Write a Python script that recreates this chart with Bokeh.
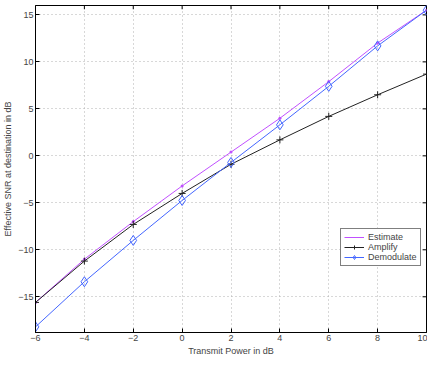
from bokeh.plotting import figure
from bokeh.models import Range1d, FixedTicker, Legend, LegendItem
from bokeh.embed import file_html
from bokeh.resources import INLINE

# Data
power_db = [-6, -4, -2, 0, 2, 4, 6, 8, 10]
estimate = [-15.6, -11.0, -7.0, -3.2, 0.4, 4.0, 7.9, 12.0, 15.5]
amplify = [-15.6, -11.2, -7.3, -4.0, -0.9, 1.7, 4.2, 6.5, 8.7]
demodulate = [-18.2, -13.4, -9.0, -4.75, -0.7, 3.3, 7.4, 11.7, 15.5]
x_ticks = [-6, -4, -2, 0, 2, 4, 6, 8, 10]
y_ticks = [-15, -10, -5, 0, 5, 10, 15]

X_MIN, X_MAX = -6, 10
Y_MIN, Y_MAX = -18.8, 16

FONT = "Liberation Sans"
FS = "9px"

p = figure(width=427, height=358, output_backend="svg", toolbar_location=None,
           x_range=Range1d(X_MIN, X_MAX), y_range=Range1d(Y_MIN, Y_MAX),
           x_axis_label="Transmit Power in dB",
           y_axis_label="Effective SNR at destination in dB",
           min_border_left=0, min_border_right=1, min_border_top=5, min_border_bottom=0)
p.background_fill_color = "white"
p.border_fill_color = "white"
p.outline_line_color = "black"
p.outline_line_width = 1

for ax in (p.xaxis[0], p.yaxis[0]):
    ax.major_tick_in = 4
    ax.major_tick_out = 0
    ax.minor_tick_in = 0
    ax.minor_tick_out = 0
    ax.major_label_text_font = FONT
    ax.major_label_text_font_size = FS
    ax.axis_label_text_font = FONT
    ax.axis_label_text_font_size = FS
    ax.axis_label_text_font_style = "normal"
    ax.axis_line_color = "black"
    ax.major_tick_line_color = "black"
    ax.major_label_standoff = 2
    ax.axis_label_standoff = 2
p.xaxis[0].ticker = FixedTicker(ticks=x_ticks)
p.yaxis[0].ticker = FixedTicker(ticks=y_ticks)

p.xgrid.ticker = FixedTicker(ticks=x_ticks)
p.ygrid.ticker = FixedTicker(ticks=y_ticks)
for g in (p.xgrid[0], p.ygrid[0]):
    g.grid_line_color = "#b0b0b0"
    g.grid_line_dash = "1 3"
    g.grid_line_width = 1

# inward tick marks on top and right edges (MATLAB box style)
tick_len_y = 0.4   # data units (~4px)
tick_len_x = 0.16  # data units (~4px)
p.segment(x0=x_ticks, y0=[Y_MAX] * len(x_ticks), x1=x_ticks,
          y1=[Y_MAX - tick_len_y] * len(x_ticks), line_color="black", line_width=1)
p.segment(x0=[X_MAX] * len(y_ticks), y0=y_ticks, x1=[X_MAX - tick_len_x] * len(y_ticks),
          y1=y_ticks, line_color="black", line_width=1)

c_est = "#c050ff"
c_amp = "#222222"
c_dem = "#4466ff"

l1 = p.line(power_db, estimate, line_color=c_est, line_width=1)
m1 = p.scatter(power_db, estimate, marker="dot", size=12, color=c_est)
l2 = p.line(power_db, amplify, line_color=c_amp, line_width=1)
m2 = p.scatter(power_db, amplify, marker="cross", size=7, line_color=c_amp, line_width=1)
l3 = p.line(power_db, demodulate, line_color=c_dem, line_width=1)
m3 = p.scatter(power_db, demodulate, marker="diamond", size=10, line_color=c_dem,
               fill_color=None, line_width=1)

legend = Legend(items=[LegendItem(label="Estimate", renderers=[l1, m1]),
                       LegendItem(label="Amplify", renderers=[l2, m2]),
                       LegendItem(label="Demodulate", renderers=[l3, m3])],
                location=(305, 66))
legend.label_text_font = FONT
legend.label_text_font_size = FS
legend.border_line_color = "black"
legend.border_line_width = 1
legend.padding = 3
legend.margin = 0
legend.spacing = 0
legend.glyph_width = 20
legend.glyph_height = 10
legend.label_height = 10
legend.label_standoff = 4
legend.background_fill_alpha = 1
p.add_layout(legend, "center")

open("out.html", "w").write(file_html(p, INLINE))
